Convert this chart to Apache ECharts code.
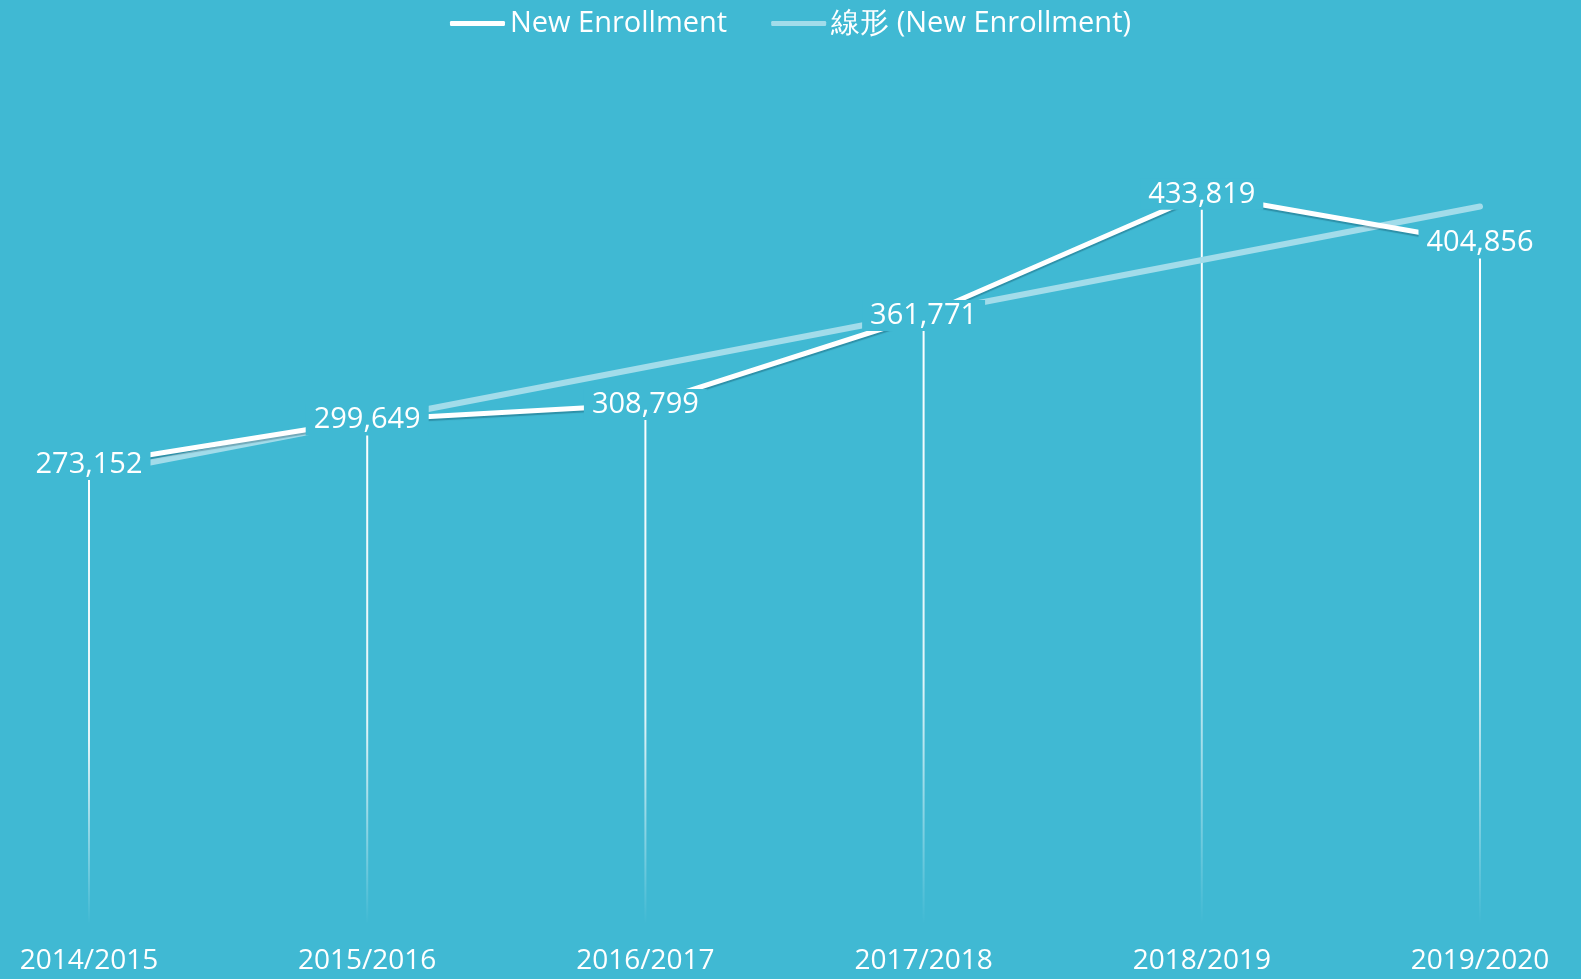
<!DOCTYPE html>
<html lang="en">
<head>
    <meta charset="UTF-8">
    <title>New Enrollment</title>
    <script src="https://cdn.jsdelivr.net/npm/echarts@6/dist/echarts.min.js"></script>
    <style>
        html, body {margin: 0; padding: 0; background: #40b9d3;}
    </style>
</head>
<body>
<div id="main" style="width: 1581px;height:979px;"></div>
<script type="text/javascript">
    // data
    var years = ['2014/2015', '2015/2016', '2016/2017', '2017/2018', '2018/2019', '2019/2020'];
    var enrollment = [273152, 299649, 308799, 361771, 433819, 404856];
    // trendline: only its two ends, the line in between is straight
    var trend = [267400, null, null, null, null, 426600];

    var bg = '#40b9d3';
    var font = 'Open Sans';

    var myChart = echarts.init(document.getElementById('main'));
    myChart.setOption({
        backgroundColor: bg,
        animation: false,
        textStyle: {fontFamily: font},
        legend: {
            top: 4,
            left: 'center',
            itemWidth: 55,
            itemHeight: 5,
            itemGap: 44,
            icon: 'roundRect',
            textStyle: {color: '#fff', fontSize: 29, fontFamily: font},
            data: ['New Enrollment', '線形 (New Enrollment)']
        },
        grid: {left: 89, right: 101, top: 83, bottom: 55},
        xAxis: {
            type: 'category',
            boundaryGap: false,
            data: years,
            axisLine: {show: false},
            axisTick: {show: false},
            axisLabel: {color: '#fff', fontSize: 28, margin: 23, fontFamily: font}
        },
        yAxis: {
            type: 'value',
            min: 0,
            max: 500000,
            show: false,
            splitLine: {show: false}
        },
        series: [
            {
                // drop lines
                name: 'drop',
                type: 'bar',
                barWidth: 2,
                silent: true,
                data: enrollment,
                itemStyle: {
                    color: new echarts.graphic.LinearGradient(0, 0, 0, 1, [
                        {offset: 0, color: 'rgba(255,255,255,1)'},
                        {offset: 0.6, color: 'rgba(255,255,255,0.85)'},
                        {offset: 1, color: 'rgba(255,255,255,0)'}
                    ])
                }
            },
            {
                name: 'New Enrollment',
                type: 'line',
                data: enrollment,
                symbol: 'circle',
                symbolSize: 1,
                showSymbol: true,
                z: 3,
                itemStyle: {color: '#fff'},
                lineStyle: {
                    color: '#fff',
                    width: 5,
                    shadowColor: 'rgba(0,50,70,0.3)',
                    shadowBlur: 1,
                    shadowOffsetY: 2
                },
                label: {
                    show: true,
                    position: 'inside',
                    color: '#fff',
                    fontSize: 29,
                    fontFamily: font,
                    backgroundColor: bg,
                    padding: [1, 8],
                    formatter: function (p) {
                        return p.value.toLocaleString('en-US');
                    }
                }
            },
            {
                name: '線形 (New Enrollment)',
                type: 'line',
                data: trend,
                connectNulls: true,
                symbol: 'none',
                z: 2,
                itemStyle: {color: '#a2dcea'},
                lineStyle: {color: '#a2dcea', width: 6, cap: 'round'}
            }
        ]
    });
</script>
</body>
</html>
